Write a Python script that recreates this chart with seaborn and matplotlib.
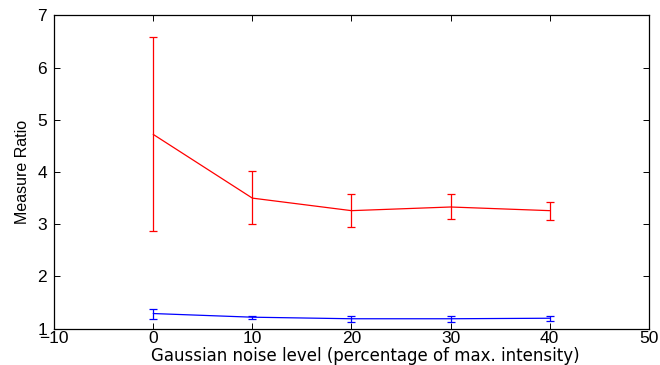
import matplotlib
matplotlib.use("Agg")
import matplotlib.pyplot as plt
from matplotlib.font_manager import FontProperties
import seaborn as sns
import pandas as pd
import numpy as np

# Data
noise_levels = [0, 10, 20, 30, 40]
red_mean = [4.72, 3.50, 3.26, 3.33, 3.26]
red_low = [2.87, 3.00, 2.95, 3.10, 3.09]
red_high = [6.58, 4.01, 3.57, 3.57, 3.43]
blue_mean = [1.29, 1.22, 1.19, 1.19, 1.20]
blue_low = [1.19, 1.18, 1.13, 1.13, 1.14]
blue_high = [1.38, 1.25, 1.25, 1.25, 1.25]
x_ticks = [-10, 0, 10, 20, 30, 40, 50]
x_tick_labels = ["\u221210", "0", "10", "20", "30", "40", "50"]
y_ticks = [1, 2, 3, 4, 5, 6, 7]

sns.set_style("ticks")
plt.rcParams['font.family'] = ['Liberation Sans', 'DejaVu Sans']
plt.rcParams['text.color'] = 'black'
plt.rcParams['axes.labelcolor'] = 'black'

fig = plt.figure(figsize=(6.6, 3.65), dpi=100)
ax = fig.add_axes([0.082, 0.0995, 0.901, 0.8585])

df = pd.DataFrame({
    "x": noise_levels * 2,
    "y": red_mean + blue_mean,
    "series": ["red"] * 5 + ["blue"] * 5,
})
sns.lineplot(data=df, x="x", y="y", hue="series",
             palette={"red": "#ff0000", "blue": "#0000ff"},
             linewidth=0.9, legend=False, ax=ax)

for mean, lo, hi, col in [(red_mean, red_low, red_high, "#ff0000"),
                          (blue_mean, blue_low, blue_high, "#0000ff")]:
    m = np.array(mean)
    yerr = [m - np.array(lo), np.array(hi) - m]
    ax.errorbar(noise_levels, mean, yerr=yerr, fmt="none", ecolor=col,
                elinewidth=0.9, capsize=2.6, capthick=0.9)

ax.set_xlim(-10, 50)
ax.set_ylim(1, 7)
ax.set_xticks(x_ticks)
ax.set_yticks(y_ticks)
ax.set_xticklabels(x_tick_labels)

ax.tick_params(direction="in", length=4, width=0.7, labelsize=12.5,
               top=True, right=True, colors="black", labelcolor="black")
ax.tick_params(axis="x", pad=2, labelsize=12.5)
ax.tick_params(axis="y", pad=5)
for lbl in ax.get_xticklabels() + ax.get_yticklabels():
    lbl.set_fontproperties(FontProperties(family=["Liberation Sans"], size=12.5))
for s in ax.spines.values():
    s.set_visible(True)
    s.set_linewidth(0.9)
    s.set_color("black")

ax.set_xlabel("Gaussian noise level (percentage of max. intensity)",
              fontproperties=FontProperties(family=["DejaVu Sans"], size=12),
              color="black")
ax.xaxis.set_label_coords(0.524, -0.058)
ax.set_ylabel("Measure Ratio",
              fontproperties=FontProperties(family=["Liberation Sans"], size=11.5),
              labelpad=5, color="black")

fig.savefig("out.png", dpi=100)
